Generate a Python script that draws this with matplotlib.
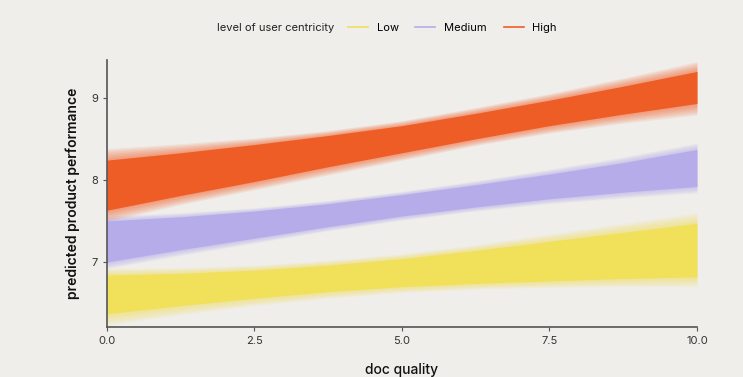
import numpy as np
import matplotlib.pyplot as plt
from matplotlib.lines import Line2D

plt.rcParams['font.family'] = ['Inter', 'DejaVu Sans']

doc_quality = [0.0, 1.25, 2.5, 3.75, 5.0, 6.25, 7.5, 8.75, 10.0]
groups = ['Low', 'Medium', 'High']
colors = {'Low': '#F0E05A', 'Medium': '#B6ACEA', 'High': '#EF5D27'}

# dense part of the posterior line bundle
core_top = {
    'Low': [6.84, 6.86, 6.90, 6.96, 7.04, 7.14, 7.25, 7.36, 7.47],
    'Medium': [7.50, 7.55, 7.62, 7.71, 7.82, 7.94, 8.07, 8.21, 8.37],
    'High': [8.24, 8.33, 8.43, 8.54, 8.66, 8.81, 8.97, 9.14, 9.32],
}
core_bottom = {
    'Low': [6.37, 6.47, 6.56, 6.64, 6.70, 6.74, 6.77, 6.80, 6.82],
    'Medium': [7.00, 7.15, 7.29, 7.43, 7.56, 7.67, 7.77, 7.85, 7.92],
    'High': [7.63, 7.81, 7.98, 8.16, 8.33, 8.50, 8.66, 8.80, 8.93],
}
# faint outer lines
halo_top = {
    'Low': [6.92, 6.93, 6.96, 7.02, 7.10, 7.21, 7.34, 7.47, 7.60],
    'Medium': [7.56, 7.60, 7.66, 7.75, 7.86, 7.99, 8.13, 8.28, 8.45],
    'High': [8.38, 8.44, 8.51, 8.60, 8.72, 8.88, 9.05, 9.24, 9.44],
}
halo_bottom = {
    'Low': [6.23, 6.36, 6.47, 6.56, 6.63, 6.67, 6.69, 6.70, 6.70],
    'Medium': [6.92, 7.08, 7.23, 7.38, 7.51, 7.62, 7.71, 7.78, 7.84],
    'High': [7.49, 7.70, 7.88, 8.06, 8.24, 8.42, 8.57, 8.69, 8.79],
}

bg = '#EFEEEA'
fig = plt.figure(figsize=(7.43, 3.77), dpi=100, facecolor=bg)
ax = fig.add_axes([0.144, 0.133, 0.794, 0.708], facecolor=bg)

x = np.array(doc_quality)
for g in groups:
    ct, cb = np.array(core_top[g]), np.array(core_bottom[g])
    ht, hb = np.array(halo_top[g]), np.array(halo_bottom[g])
    # soft edge: stack of thin translucent layers between halo and core
    for t in np.linspace(0, 1, 8):
        top = ht + (ct - ht) * t
        bot = hb + (cb - hb) * t
        ax.fill_between(x, bot, top, color=colors[g], alpha=0.1, lw=0)
    ax.fill_between(x, cb, ct, color=colors[g], lw=0)

ax.set_xlim(0, 10)
ax.set_ylim(6.21, 9.46)
ax.set_xticks([0, 2.5, 5, 7.5, 10])
ax.set_xticklabels(['0.0', '2.5', '5.0', '7.5', '10.0'])
ax.set_yticks([7, 8, 9])
for s in ['top', 'right']:
    ax.spines[s].set_visible(False)
for s in ['left', 'bottom']:
    ax.spines[s].set_color('#555555')
    ax.spines[s].set_linewidth(1.2)
ax.tick_params(colors='#555555', labelcolor='#333333', labelsize=8, length=3)
ax.set_xlabel('doc quality', fontsize=10, labelpad=12, color='#111111',
              fontweight='medium')
ax.set_ylabel('predicted product performance', fontsize=10, labelpad=8,
              color='#111111', fontweight='semibold')

fig.text(0.292, 0.925, 'level of user centricity', fontsize=8,
         va='center', ha='left', color='#222222')
handles = [Line2D([], [], color=colors[g], lw=1.2) for g in groups]
fig.legend(handles, groups, loc='center left', bbox_to_anchor=(0.462, 0.925),
           ncol=3, frameon=False, fontsize=8, handlelength=1.8,
           columnspacing=1.5, handletextpad=0.8, borderaxespad=0)

fig.savefig('out.png', dpi=100, facecolor=bg)
